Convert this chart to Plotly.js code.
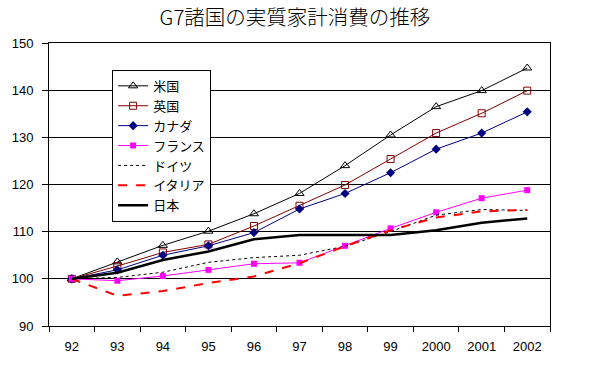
<!DOCTYPE html>
<html><head><meta charset="utf-8">
<script src="https://cdn.plot.ly/plotly-3.0.1.min.js"></script>
<style>html,body{margin:0;padding:0;background:#fff;}#chart{width:590px;height:367px;}</style>
</head><body><div id="chart"></div>
<script>
const categories = ["92","93","94","95","96","97","98","99","2000","2001","2002"];
const seriesNames = ["米国","英国","カナダ","フランス","ドイツ","イタリア","日本"];
const usa     = [100, 103.6, 107.1, 110.1, 113.8, 118.1, 124.0, 130.5, 136.5, 139.9, 144.7];
const uk      = [100, 102.7, 105.6, 107.3, 111.2, 115.5, 119.9, 125.4, 130.9, 135.1, 139.9];
const canada  = [100, 101.9, 105.0, 107.0, 109.8, 114.8, 118.1, 122.5, 127.5, 130.9, 135.4];
const france  = [100, 99.6, 100.6, 101.9, 103.2, 103.4, 107.0, 110.7, 114.1, 117.1, 118.8];
const germany = [100, 100.3, 101.4, 103.5, 104.5, 105.0, 106.9, 110.0, 113.5, 114.7, 114.5];
const italy   = [100, 96.4, 97.4, 99.1, 100.5, 103.3, 106.9, 110.3, 113.0, 114.3, 114.6];
const japan   = [100, 101.3, 104.0, 105.8, 108.4, 109.3, 109.3, 109.3, 110.3, 111.9, 112.8];
const yTicks = [90, 100, 110, 120, 130, 140, 150];

const fontLatin = "Liberation Sans, Arial, sans-serif";
const fontJP = "Noto Sans CJK JP, sans-serif";

const traces = [
  {y: usa, name: seriesNames[0], mode: "lines+markers", line: {color: "#000000", width: 1},
   marker: {symbol: "triangle-up-open", size: 8, color: "#000000", line: {width: 1}}},
  {y: uk, name: seriesNames[1], mode: "lines+markers", line: {color: "#800000", width: 1},
   marker: {symbol: "square-open", size: 7, color: "#800000", line: {width: 1}}},
  {y: canada, name: seriesNames[2], mode: "lines+markers", line: {color: "#000080", width: 1},
   marker: {symbol: "diamond", size: 7, color: "#000080"}},
  {y: france, name: seriesNames[3], mode: "lines+markers", line: {color: "#FF00FF", width: 1},
   marker: {symbol: "square", size: 6, color: "#FF00FF"}},
  {y: germany, name: seriesNames[4], mode: "lines", line: {color: "#000000", width: 1, dash: "dot"}},
  {y: italy, name: seriesNames[5], mode: "lines", line: {color: "#FF0000", width: 2, dash: "dash"}},
  {y: japan, name: seriesNames[6], mode: "lines", line: {color: "#000000", width: 2.5}}
].map(t => Object.assign({x: categories, type: "scatter"}, t));

const layout = {
  width: 590, height: 367,
  margin: {l: 49, r: 40, t: 43, b: 41},
  paper_bgcolor: "#ffffff", plot_bgcolor: "#ffffff",
  title: {text: "G7諸国の実質家計消費の推移", font: {family: fontJP, size: 20.5, color: "#000", weight: 300},
          x: 0.5, xanchor: "center", y: 0.952, yanchor: "middle"},
  xaxis: {type: "category", range: [-0.5, 10.5], showgrid: false, zeroline: false,
          showline: true, linecolor: "#000", linewidth: 1, mirror: true,
          ticks: "outside", ticklen: 5, tickcolor: "#000", tickson: "boundaries",
          ticklabelstandoff: 8,
          tickfont: {family: fontLatin, size: 13, color: "#000"}, fixedrange: true},
  yaxis: {range: [90, 150], tickvals: yTicks, ticktext: yTicks.map(String),
          showgrid: true, gridcolor: "#000", gridwidth: 1, zeroline: false,
          showline: true, linecolor: "#000", linewidth: 1, mirror: true,
          ticks: "outside", ticklen: 6, tickcolor: "#000",
          ticklabelstandoff: 6,
          tickfont: {family: fontLatin, size: 13, color: "#000"}, fixedrange: true},
  legend: {x: 0.126, y: 0.905, xanchor: "left", yanchor: "top",
           bgcolor: "#ffffff", bordercolor: "#000", borderwidth: 1,
           font: {family: fontJP, size: 13, color: "#000"}, tracegroupgap: 0,
           itemwidth: 30},
  showlegend: true
};

Plotly.newPlot("chart", traces, layout, {staticPlot: true, displayModeBar: false});
</script></body></html>
